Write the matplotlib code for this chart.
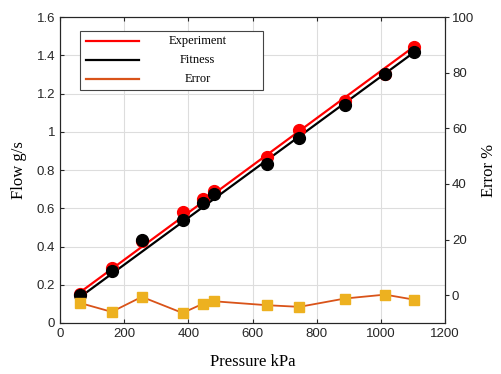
import matplotlib
matplotlib.use('Agg')
import matplotlib.pyplot as plt
from matplotlib.patches import Rectangle
from matplotlib.lines import Line2D

# 压力点 (kPa)
pressure = [62, 161, 255, 382, 447, 481, 644, 746, 888, 1013, 1103]
# 实验流量 / 拟合流量 (g/s)
flow_exp = [0.15, 0.29, 0.43, 0.58, 0.65, 0.69, 0.87, 1.01, 1.16, 1.30, 1.445]
flow_fit = [0.145, 0.27, 0.433, 0.54, 0.625, 0.677, 0.834, 0.969, 1.14, 1.30, 1.416]
# 误差 (%)
error_pct = [-2.8, -6.0, -0.6, -6.4, -3.0, -2.2, -3.6, -4.2, -1.2, 0.2, -1.6]

# 直线（端点）
line_x = [62, 1103]
exp_line = [0.16, 1.445]
fit_line = [0.135, 1.415]

RED = '#FF0000'
BLACK = '#000000'
ERR_LINE = '#D95319'
ERR_MARK = '#EDB120'
SERIF = ['Liberation Serif', 'DejaVu Serif']
SANS = ['Liberation Sans', 'DejaVu Sans']

plt.rcParams['font.family'] = SANS

fig = plt.figure(figsize=(5.01, 3.74), dpi=100)
ax = fig.add_axes([0.1198, 0.1364, 0.7685, 0.818])
ax2 = ax.twinx()

ax.plot(line_x, exp_line, color=RED, lw=1.6, zorder=3)
ax.plot(line_x, fit_line, color=BLACK, lw=1.6, zorder=3)
ax.plot(pressure, flow_exp, 'o', color=RED, ms=8.5, zorder=4)
ax.plot(pressure, flow_fit, 'o', color=BLACK, ms=8.5, zorder=5)

ax2.plot(pressure, error_pct, '-', color=ERR_LINE, lw=1.3, zorder=3)
ax2.plot(pressure, error_pct, 's', color=ERR_MARK, ms=7, zorder=4)

ax.set_xlim(0, 1200)
ax.set_ylim(0, 1.6)
ax.set_xticks(range(0, 1201, 200))
ax.set_yticks([0, 0.2, 0.4, 0.6, 0.8, 1, 1.2, 1.4, 1.6])
ax.set_yticklabels(['0', '0.2', '0.4', '0.6', '0.8', '1', '1.2', '1.4', '1.6'])
ax2.set_ylim(-10, 100)
ax2.set_yticks(range(0, 101, 20))

ax.grid(True, color='#DDDDDD', lw=0.8)
ax.set_axisbelow(True)
ax.tick_params(direction='in', top=True, labelsize=9.5, colors='#262626', length=3)
ax2.tick_params(direction='out', labelsize=9.5, colors='#262626', length=3, pad=2)
for a in (ax, ax2):
    for s in a.spines.values():
        s.set_color('#262626')
        s.set_linewidth(0.8)

ax.set_xlabel('Pressure kPa', family=SERIF, fontsize=12, labelpad=10)
ax.set_ylabel('Flow g/s', family=SERIF, fontsize=12, labelpad=7)
ax2.set_ylabel('Error %', family=SERIF, fontsize=12, labelpad=5)

# 手动图例
ax.add_patch(Rectangle((0.052, 0.761), 0.475, 0.193, transform=ax.transAxes,
                       facecolor='white', edgecolor='#444444', lw=0.8, zorder=10))
for yy, col, lab in [(0.922, RED, 'Experiment'), (0.859, BLACK, 'Fitness'),
                     (0.797, ERR_LINE, 'Error')]:
    ax.add_line(Line2D([0.0675, 0.205], [yy, yy], transform=ax.transAxes,
                       color=col, lw=1.6, zorder=11))
    ax.text(0.358, yy, lab, transform=ax.transAxes, ha='center', va='center',
            family=SERIF, fontsize=9, zorder=11)

fig.savefig('out.png', dpi=100)
